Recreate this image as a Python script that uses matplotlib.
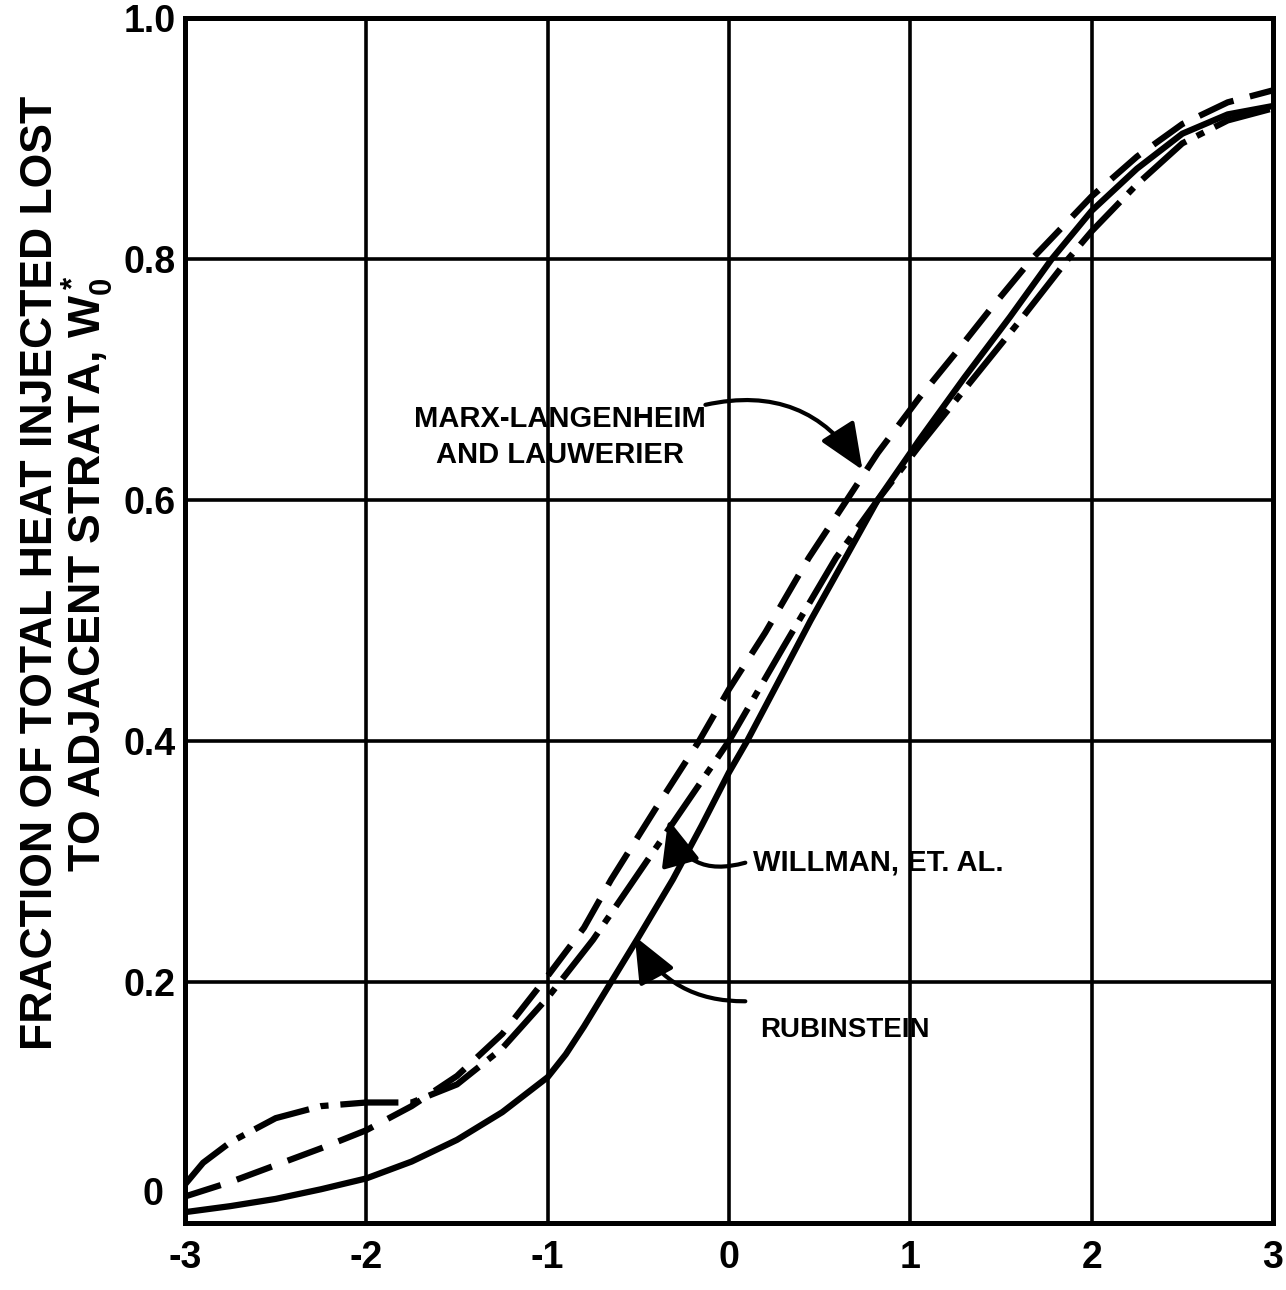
import numpy as np
import matplotlib
matplotlib.use("Agg")
import matplotlib.pyplot as plt

# values
x_rub = [-3, -2.75, -2.5, -2.25, -2, -1.75, -1.5, -1.25, -1, -0.9, -0.8, -0.65, -0.5,
         -0.31, -0.15, 0, 0.1, 0.3, 0.45, 0.65, 0.82, 1.05, 1.3, 1.55, 1.78, 2, 2.25,
         2.5, 2.75, 3]
y_rub = [0.009, 0.014, 0.020, 0.028, 0.037, 0.051, 0.069, 0.092, 0.121, 0.140, 0.163,
         0.200, 0.237, 0.285, 0.330, 0.374, 0.400, 0.457, 0.500, 0.554, 0.600, 0.650,
         0.702, 0.752, 0.800, 0.840, 0.875, 0.904, 0.920, 0.927]

x_wil = [-3, -2.9, -2.75, -2.5, -2.25, -2, -1.75, -1.5, -1.25, -1, -0.75, -0.5, -0.25,
         0, 0.3, 0.59, 0.82, 1.05, 1.3, 1.6, 1.87, 2, 2.25, 2.5, 2.75, 3]
y_wil = [0.032, 0.050, 0.067, 0.087, 0.097, 0.100, 0.100, 0.115, 0.145, 0.187, 0.235,
         0.290, 0.345, 0.400, 0.478, 0.552, 0.600, 0.645, 0.692, 0.748, 0.800, 0.823,
         0.862, 0.896, 0.915, 0.925]

x_marx = [-3, -2.75, -2.5, -2.25, -2, -1.75, -1.5, -1.25, -1, -0.8, -0.65, -0.4, -0.165,
          0, 0.2, 0.44, 0.65, 0.82, 1.05, 1.25, 1.45, 1.67, 2, 2.25, 2.5, 2.75, 3]
y_marx = [0.022, 0.034, 0.048, 0.062, 0.077, 0.097, 0.122, 0.157, 0.205, 0.245, 0.285,
          0.345, 0.400, 0.443, 0.490, 0.552, 0.600, 0.639, 0.685, 0.722, 0.760, 0.800,
          0.852, 0.885, 0.912, 0.930, 0.940]

x_ticks = [-3, -2, -1, 0, 1, 2, 3]
y_ticks = [0.2, 0.4, 0.6, 0.8, 1.0]
y_ticklabels = ["0.2", "0.4", "0.6", "0.8", "1.0"]

plt.rcParams['font.family'] = ['Liberation Sans', 'DejaVu Sans']
plt.rcParams['font.weight'] = 'bold'
plt.rcParams['axes.unicode_minus'] = False
plt.rcParams['mathtext.fontset'] = 'custom'
plt.rcParams['mathtext.rm'] = 'Liberation Sans:bold'
plt.rcParams['mathtext.bf'] = 'Liberation Sans:bold'

fig = plt.figure(figsize=(12.86, 12.90), dpi=100)
ax = fig.add_axes([185 / 1286, 67 / 1290, 1088 / 1286, 1205 / 1290])

ax.plot(x_rub, y_rub, color='black', lw=4.5, solid_capstyle='round')
ax.plot(x_wil, y_wil, color='black', lw=4.5, dashes=(9.3, 1.9, 1.3, 1.9))
ax.plot(x_marx, y_marx, color='black', lw=4.5, dashes=(6, 2.7))

ax.set_xlim(-3, 3)
ax.set_ylim(0, 1.0)
ax.set_xticks(x_ticks)
ax.set_xticklabels([str(v) for v in x_ticks])
ax.set_yticks(y_ticks)
ax.set_yticklabels(y_ticklabels)
ax.tick_params(length=0, labelsize=27)
ax.tick_params(axis='x', pad=12)
ax.tick_params(axis='y', pad=7)
ax.text(-0.02, 0.023, "0", transform=ax.get_yaxis_transform(), ha='right', va='center',
        fontsize=27)

ax.grid(True, color='black', lw=2.6)
ax.set_axisbelow(True)
for s in ax.spines.values():
    s.set_linewidth(3.6)

fig.text(68 / 1286, 1 - 573 / 1290,
         "FRACTION OF TOTAL HEAT INJECTED LOST\nTO ADJACENT STRATA, W$_0^*$",
         rotation=90, ha='center', va='center', multialignment='center',
         fontsize=32, linespacing=1.0)

ax.text(-0.93, 0.652, "MARX-LANGENHEIM\nAND LAUWERIER", ha='center', va='center',
        multialignment='center', fontsize=21, linespacing=1.35)
ax.text(0.13, 0.299, "WILLMAN, ET. AL.", ha='left', va='center', fontsize=21)
ax.text(0.17, 0.16, "RUBINSTEIN", ha='left', va='center', fontsize=20)

arrow = dict(arrowstyle='-|>,head_length=1.3,head_width=0.55', color='black', lw=3,
             mutation_scale=22, shrinkA=0, shrinkB=0)
ax.annotate("", xy=(0.736, 0.625), xytext=(-0.13, 0.679),
            arrowprops=dict(arrow, connectionstyle='arc3,rad=-0.35'))
ax.annotate("", xy=(-0.335, 0.335), xytext=(0.09, 0.299),
            arrowprops=dict(arrow, connectionstyle='arc3,rad=-0.5'))
ax.annotate("", xy=(-0.52, 0.238), xytext=(0.09, 0.184),
            arrowprops=dict(arrow, connectionstyle='arc3,rad=-0.3'))

fig.savefig("out.png", dpi=100, facecolor='white')
